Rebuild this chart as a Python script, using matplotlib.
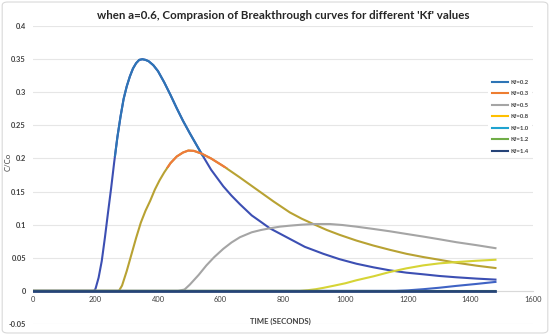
import matplotlib
matplotlib.use("Agg")
import matplotlib.pyplot as plt
from matplotlib.lines import Line2D
from matplotlib.patches import FancyBboxPatch, Rectangle

# ---- data ----
labels = ["Kf=0.2", "Kf=0.3", "Kf=0.5", "Kf=0.8", "Kf=1.0", "Kf=1.2", "Kf=1.4"]

t_02 = [0, 195, 200, 210, 220, 230, 240, 250, 260, 270, 280, 290, 300, 310, 320, 330, 340,
        350, 360, 370, 385, 400, 420, 440, 460, 480, 502, 539, 570, 609, 635, 662, 700, 730,
        758, 790, 822, 870, 929, 980, 1035, 1090, 1142, 1195, 1249, 1300, 1355, 1420, 1480]
c_02 = [0, 0, 0.003, 0.02, 0.045, 0.08, 0.118, 0.155, 0.195, 0.232, 0.263, 0.29, 0.309,
        0.324, 0.336, 0.344, 0.349, 0.35, 0.349, 0.347, 0.341, 0.332, 0.315, 0.296, 0.276,
        0.257, 0.238, 0.2075, 0.183, 0.158, 0.144, 0.131, 0.114, 0.104, 0.0945, 0.0865,
        0.0785, 0.0665, 0.056, 0.048, 0.041, 0.0355, 0.031, 0.0275, 0.025, 0.0225, 0.0205,
        0.0185, 0.017]

t_03 = [0, 275, 285, 300, 315, 330, 345, 360, 375, 390, 405, 420, 440, 460, 480, 497, 515,
        539, 570, 609, 660, 715, 770, 822, 860, 897, 940, 982, 1035, 1089, 1142, 1195, 1250,
        1300, 1355, 1420, 1480]
c_03 = [0, 0, 0.008, 0.03, 0.055, 0.08, 0.103, 0.121, 0.136, 0.153, 0.167, 0.179, 0.193,
        0.203, 0.209, 0.212, 0.2115, 0.2075, 0.2, 0.1885, 0.172, 0.1535, 0.135, 0.1185,
        0.109, 0.101, 0.092, 0.0845, 0.076, 0.0685, 0.062, 0.056, 0.051, 0.047, 0.0425,
        0.038, 0.0345]

t_05 = [0, 465, 485, 502, 530, 555, 580, 609, 635, 662, 700, 730, 758, 790, 822, 860, 897,
        950, 990, 1035, 1090, 1142, 1195, 1249, 1300, 1355, 1420, 1480]
c_05 = [0, 0, 0.002, 0.0095, 0.024, 0.0385, 0.051, 0.0635, 0.073, 0.081, 0.0885, 0.092,
        0.0945, 0.097, 0.0985, 0.1, 0.101, 0.101, 0.0995, 0.097, 0.0935, 0.09, 0.086, 0.082,
        0.078, 0.0735, 0.069, 0.0645]

t_08 = [0, 854, 880, 905, 929, 960, 1000, 1035, 1090, 1142, 1195, 1249, 1300, 1355, 1420,
        1480]
c_08 = [0, 0, 0.001, 0.0025, 0.0045, 0.0075, 0.0115, 0.016, 0.022, 0.0285, 0.034, 0.0385,
        0.0415, 0.0435, 0.0455, 0.047]

t_10 = [0, 1160, 1200, 1249, 1300, 1355, 1420, 1480]
c_10 = [0, 0, 0.0008, 0.0025, 0.0047, 0.0075, 0.0105, 0.0135]

t_12 = [0, 1480]
c_12 = [0, 0]

t_14 = [0, 1480]
c_14 = [0, 0]

x_ticks = [0, 200, 400, 600, 800, 1000, 1200, 1400, 1600]
y_ticks = [-0.05, 0, 0.05, 0.1, 0.15, 0.2, 0.25, 0.3, 0.35, 0.4]

legend_colors = ["#2E75B6", "#ED7D31", "#A5A5A5", "#FFC000", "#1FA3D0", "#70AD47", "#264478"]

# ---- figure ----
plt.rcParams['font.family'] = ['Lato', 'DejaVu Sans']
fig = plt.figure(figsize=(5.5, 3.35), dpi=100)
fig.patch.set_facecolor("white")
border = FancyBboxPatch((0.004, 0.006), 0.992, 0.988, boxstyle="round,pad=0,rounding_size=0.01",
                        transform=fig.transFigure, facecolor="white", edgecolor="#D9D9D9",
                        linewidth=0.8, zorder=-10)
fig.patches.append(border)

ax = fig.add_axes([0.06, 0.033, 0.909, 0.889])
ax.set_xlim(0, 1600)
ax.set_ylim(-0.05, 0.4)
ax.set_xticks(x_ticks)
ax.set_yticks(y_ticks)
ax.set_yticklabels(["%g" % v for v in y_ticks], fontweight="bold")
ax.set_xticklabels(["%d" % v for v in x_ticks], fontweight="bold")
ax.grid(axis="y", color="#E6E6E6", linewidth=0.8)
ax.set_axisbelow(True)
for s in ["top", "right", "left"]:
    ax.spines[s].set_visible(False)
ax.spines["bottom"].set_position(("data", 0))
ax.spines["bottom"].set_color("#D9D9D9")
ax.tick_params(axis="both", length=0, labelsize=5.4, labelcolor="#404040")
ax.tick_params(axis="x", pad=4)
ax.tick_params(axis="y", pad=5)

lw = 1.5


def two_tone(t, c, col_low, col_high, thr):
    ax.plot(t, c, color=col_low, lw=lw, zorder=3)
    ln, = ax.plot(t, c, color=col_high, lw=lw, zorder=3.1)
    ln.set_clip_path(Rectangle((0, thr), 1600, 1.0, transform=ax.transData))


# Kf=0.2 and Kf=0.3 change hue in the lower part of the picture
two_tone(t_02, c_02, "#3C4FB3", "#2E75B6", 0.203)
two_tone(t_03, c_03, "#B8A233", "#F07A3A", 0.186)
ax.plot(t_05, c_05, color="#A5A5A5", lw=lw, zorder=3)
ax.plot(t_08, c_08, color="#D6D436", lw=lw, zorder=3)
ax.plot(t_10, c_10, color="#3F63C4", lw=lw, zorder=3)
ax.plot(t_12, c_12, color="#70AD47", lw=lw, zorder=3)
ax.plot(t_14, c_14, color="#264478", lw=2.0, zorder=3.2)

ax.set_title("when a=0.6, Comprasion of Breakthrough curves for different 'Kf' values",
             fontsize=8.3, fontweight="bold", color="#262626", pad=5)
ax.set_xlabel("TIME (SECONDS)", fontsize=5.6, fontweight="bold", color="#404040")
ax.xaxis.set_label_coords(0.494, 0.02)
ax.set_ylabel("C/Co", fontsize=5.6, color="#404040")
ax.yaxis.set_label_coords(-0.042, 0.544)

handles = [Line2D([0], [0], color=c, lw=1.5) for c in legend_colors]
leg = ax.legend(handles, labels, loc="upper left", bbox_to_anchor=(0.905, 0.842),
                frameon=True, facecolor="white", edgecolor="none", fontsize=4.3,
                handlelength=2.7, handletextpad=0.35, labelspacing=1.05, borderpad=0.6,
                framealpha=1)
for txt in leg.get_texts():
    txt.set_color("#404040")
    txt.set_fontweight("bold")

fig.savefig("out.png", dpi=100)
